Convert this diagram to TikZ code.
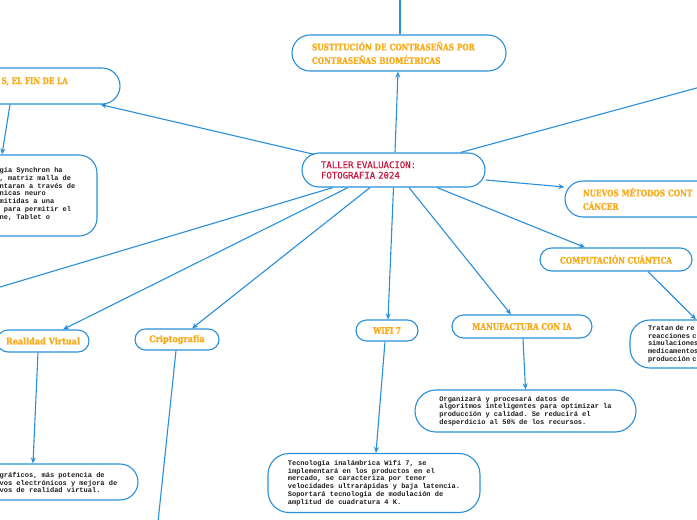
\documentclass[tikz,border=0pt]{standalone}
\usepackage{fontspec}
\setmonofont{Liberation Mono}
\newfontfamily\titlefont{DejaVu Serif Condensed}[FakeBold=1.3]
\newfontfamily\titlecapsfont{DejaVu Serif Condensed}[FakeStretch=0.9,FakeBold=1.3]
\newfontfamily\centerfont{DejaVu Sans Mono}[FakeBold=0.5]
\usetikzlibrary{arrows.meta}
\definecolor{lineblue}{HTML}{2A8FD9}
\definecolor{titleorange}{HTML}{F7AC1B}
\definecolor{centerred}{HTML}{C8163C}
\definecolor{desctext}{HTML}{1E1E1E}
\tikzset{
  rbox/.style={draw=lineblue, line width=1.1pt, rounded corners=#1, inner sep=0pt},
  rbox/.default=11,
  ttl/.style={font=\titlefont\bfseries\fontsize{9}{13.5}\selectfont, text=titleorange},
  ttlcaps/.style={font=\titlecapsfont\bfseries\fontsize{9}{13.5}\selectfont, text=titleorange},
  desc/.style={font=\ttfamily\bfseries\fontsize{7}{7.8}\selectfont, text=desctext},
  conn/.style={draw=lineblue, line width=1.1pt, -{Stealth[length=6pt,width=5pt]}},
  plainconn/.style={draw=lineblue, line width=1.1pt},
}
\begin{document}
\begin{tikzpicture}[x=1pt,y=-1pt]
\useasboundingbox (0,0) rectangle (697,520);
\fill[white] (0,0) rectangle (697,520);
\clip (0,0) rectangle (697,520);

% central
\node[rbox=17, minimum width=183, minimum height=34, text width=145, align=left,
      font=\centerfont\fontsize{9}{10.5}\selectfont, text=centerred] (c) at (393.5,170)
      {TALLER EVALUACION:\\FOTOGRAFIA 2024};

% top
\node[rbox=18, minimum width=214, minimum height=36, text width=174, align=left, ttlcaps] (s) at (399,53)
      {SUSTITUCIÓN DE CONTRASEÑAS POR\\CONTRASEÑAS BIOMÉTRICAS};
\coordinate (top) at (400,-20);

% left top
\node[rbox=18, minimum width=270, minimum height=36] (lt) at (-15,86) {};
\node[ttlcaps, anchor=base east, inner sep=0pt] (ltt) at (68,84) {S, EL FIN DE LA};

% synchron
\node[rbox=18, minimum width=247, minimum height=81] (sy) at (-26.5,195.5) {};
\node[desc, anchor=west, inner sep=0pt, align=left] (syt) at (-0.5,194)
      {gía Synchron ha\\, matriz malla de\\ntaran a través de\\nicas neuro\\mitidas a una\\\phantom{x}para permitir el\\ne, Tablet o};

% nuevos
\node[rbox=18, minimum width=235, minimum height=36, text width=199, align=left, ttlcaps] (nu) at (682.5,199)
      {NUEVOS MÉTODOS CONT\\CÁNCER};

% computacion
\node[rbox=11.5, minimum width=152, minimum height=23, ttlcaps] (cq) at (616,259.5) {COMPUTACIÓN CUÁNTICA};
\node[rbox=20, minimum width=170, minimum height=48, text width=134, align=left, desc] (cd) at (715,344)
      {Tratan de re\\reacciones c\\simulaciones\\medicamentos\\producción c};

% realidad virtual
\node[rbox=11, minimum width=92, minimum height=22, ttl] (rv) at (43,341) {Realidad Virtual};
\node[rbox=18, minimum width=276, minimum height=36] (rd) at (0,482) {};
\node[desc, anchor=west, inner sep=0pt, align=left] (rdt) at (-0.5,482.5)
      {gráficos, más potencia de\\vos electrónicos y mejora de\\vos de realidad virtual.};

% criptografia
\node[rbox=10.5, minimum width=84, minimum height=21, ttl] (cr) at (177,339.5) {Criptografía};
\coordinate (ob) at (154,560);

% wifi
\node[rbox=10.5, minimum width=62, minimum height=21, ttlcaps] (wf) at (387,330.5) {WIFI 7};
\node[rbox=21, minimum width=212, minimum height=59, desc, align=left] (wd) at (374,483)
      {Tecnología inalámbrica Wifi 7, se\\implementará en los productos en el\\mercado, se caracteriza por tener\\velocidades ultrarápidas y baja latencia.\\Soportará tecnología de modulación de\\amplitud de cuadratura 4 K.};

% manufactura
\node[rbox=11.5, minimum width=140, minimum height=23, ttlcaps] (mf) at (522,326.5) {MANUFACTURA CON IA};
\node[rbox=21, minimum width=221, minimum height=42, desc, align=left] (md) at (525.5,411)
      {Organizará y procesará datos de\\algoritmos inteligentes para optimizar la\\producción y calidad. Se reducirá el\\desperdicio al 50\% de los recursos.};

\coordinate (tr) at (760,70.7);
\coordinate (ol) at (-50,302);

% connectors
\draw[conn] ([xshift=1.5pt]c.north) -- ([xshift=-1pt]s.south);
\draw[plainconn] ([xshift=1pt]s.north) -- (top);
\draw[conn] ([xshift=13pt,yshift=-2pt]c.north west) -- ([xshift=-20pt]lt.south east);
\draw[conn] ([xshift=25pt]lt.south) -- ([xshift=28.5pt]sy.north);
\draw[plainconn] ([xshift=-25pt]c.north east) -- (tr);
\draw[conn] ([yshift=-10pt]c.east) -- ([yshift=12pt]nu.west);
\draw[conn] ([xshift=43.5pt]c.south) -- ([xshift=-31pt]cq.north);
\draw[conn] ([xshift=32pt]cq.south) -- ([xshift=-19pt]cd.north);
\draw[plainconn] ([xshift=-60.5pt]c.south) -- (ol);
\draw[conn] ([xshift=-45.5pt]c.south) -- ([xshift=20pt]rv.north);
\draw[conn] ([xshift=-23.5pt]c.south) -- ([xshift=15pt]cr.north);
\draw[plainconn] ([xshift=-1pt]cr.south) -- (ob);
\draw[conn] ([xshift=-5pt]rv.south) -- ([xshift=33pt]rd.north);
\draw[conn] (c.south) -- ([xshift=1pt]wf.north);
\draw[conn] ([xshift=-2pt]wf.south) -- ([xshift=2pt]wd.north);
\draw[conn] ([xshift=15.5pt]c.south) -- ([xshift=-11pt]mf.north);
\draw[conn] ([xshift=1pt]mf.south) -- (md.north);
\end{tikzpicture}
\end{document}
